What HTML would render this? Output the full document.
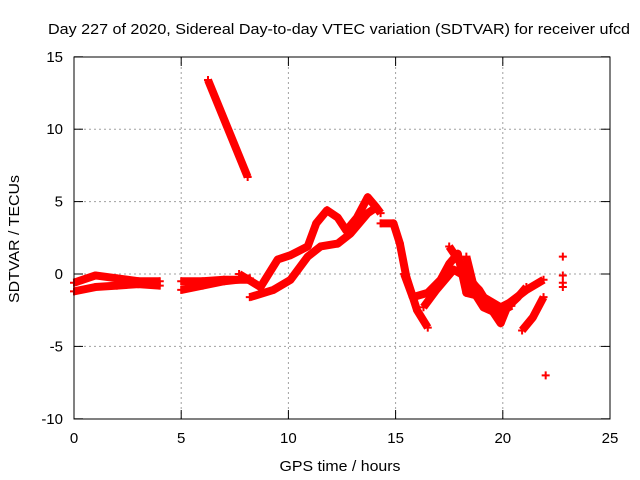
<!DOCTYPE html>
<html><head><meta charset="utf-8"><style>
body{margin:0;background:#fff}
svg{display:block;font-family:"Liberation Sans",sans-serif;font-size:15px}
</style></head><body>
<svg id="c" width="640" height="480">
<text x="339" y="34" text-anchor="middle" textLength="582" lengthAdjust="spacingAndGlyphs">Day 227 of 2020, Sidereal Day-to-day VTEC variation (SDTVAR) for receiver ufcd</text>
<text x="340" y="471" text-anchor="middle" textLength="121" lengthAdjust="spacingAndGlyphs">GPS time / hours</text>
<text transform="translate(19,239) rotate(-90)" text-anchor="middle" textLength="128" lengthAdjust="spacingAndGlyphs">SDTVAR / TECUs</text>
<g id="grid"></g><g id="marks"></g>
<rect x="74" y="57" width="536" height="362" fill="none" stroke="#000"/>
</svg>
<script>
const xTicks=[0,5,10,15,20,25];
const yTicks=[15,10,5,0,-5,-10];
const track1=[[0,-0.6],[1,-0.1],[2,-0.3],[3,-0.5],[4,-0.5]];
const track2=[[0,-1.2],[1,-0.9],[2,-0.8],[3,-0.7],[4,-0.8]];
const track3=[[5,-1.1],[6,-0.8],[7,-0.5],[8.2,-0.3]];
const track4=[[5,-0.5],[6,-0.5],[7,-0.4],[8.2,-0.4]];
const track5=[[6.25,13.4],[8.1,6.7]];
const track6=[[8.2,-1.6],[9.3,-1.1],[10.1,-0.4],[10.9,1.2],[11.5,1.9],[12.3,2.1],[12.9,2.8],[13.3,3.5],[13.7,4.2],[14.1,4.6]];
const track7=[[7.7,0],[8.7,-0.9],[9.5,1.0],[10.1,1.3],[10.9,1.9],[11.3,3.5],[11.8,4.4],[12.3,3.9],[12.7,3.0],[13.2,3.9],[13.7,5.3],[14.1,4.6],[14.3,4.2]];
const track8=[[14.3,3.5],[14.9,3.5],[15.2,2.1],[15.5,-0.2],[16,-2.5],[16.5,-3.7]];
const track9=[[15.4,0],[15.8,-1.6],[16.5,-1.3],[17.1,-0.4],[17.5,0.7],[17.9,1.4],[18.3,-1.3],[19.1,-1.6],[19.9,-2.3],[20.3,-2.0],[21.1,-1.1],[21.9,-0.4]];
const track10=[[16.3,-2.3],[16.9,-1.1],[17.7,0.3],[18.3,-0.2],[18.9,-1.1],[19.4,-2.3],[19.9,-3.4],[20.2,-2.3],[20.7,-1.6],[21.1,-0.9]];
const track11=[[17.5,1.9],[18,0.8],[18.5,-0.9],[19.1,-2.3],[19.7,-2.7]];
const track12=[[18.3,1.2],[18.6,-0.6],[19.1,-1.6],[19.9,-2.6],[20.4,-2.2]];
const track13=[[20.9,-3.9],[21.4,-3.0],[21.9,-1.6]];
const isolated=[[22,-7.0],[22.8,1.2],[22.8,-0.1],[22.8,-0.6],[22.8,-0.9]];
const tracks=[track1,track2,track3,track4,track5,track6,track7,track8,track9,track10,track11,track12,track13];
const X=h=>74+h*(536/25), Y=v=>274-v*(362/25);
const NS='http://www.w3.org/2000/svg';
const grid=document.getElementById('grid'), marks=document.getElementById('marks');
function mk(tag,attrs,parent){const e=document.createElementNS(NS,tag);for(const k in attrs)e.setAttribute(k,attrs[k]);parent.appendChild(e);return e;}
xTicks.forEach(t=>{
  if(t>0&&t<25){const g=mk('line',{x1:X(t),x2:X(t),y1:57,y2:419,stroke:'#a0a0a0','stroke-dasharray':'2,3'},grid);
  
  }
  mk('line',{x1:X(t),x2:X(t),y1:419,y2:410,stroke:'#000'},grid);
  mk('line',{x1:X(t),x2:X(t),y1:57,y2:66,stroke:'#000'},grid);
  const l=mk('text',{x:X(t),y:443,'text-anchor':'middle'},grid);l.textContent=t;
  
  
});
yTicks.forEach(t=>{
  if(t<15&&t>-10){const g=mk('line',{x1:74,x2:610,y1:Y(t),y2:Y(t),stroke:'#a0a0a0','stroke-dasharray':'2,3'},grid);
  
  }
  mk('line',{x1:74,x2:83,y1:Y(t),y2:Y(t),stroke:'#000'},grid);
  mk('line',{x1:601,x2:610,y1:Y(t),y2:Y(t),stroke:'#000'},grid);
  const l=mk('text',{x:63,y:Y(t)+5,'text-anchor':'end'},grid);l.textContent=t;
  
  
});
function plus(p){const x=X(p[0]),y=Y(p[1]);
  const e=mk('path',{d:`M${x-4} ${y}H${x+4}M${x} ${y-4}V${y+4}`,stroke:'#f00','stroke-width':2},marks);
  
  }
tracks.forEach(tr=>{
  const pl=mk('polyline',{points:tr.map(p=>X(p[0])+','+Y(p[1])).join(' '),fill:'none',stroke:'#f00','stroke-width':8,'stroke-linejoin':'round'},marks);
  
  
  tr.forEach(plus);
});
isolated.forEach(plus);
</script>
</body></html>
